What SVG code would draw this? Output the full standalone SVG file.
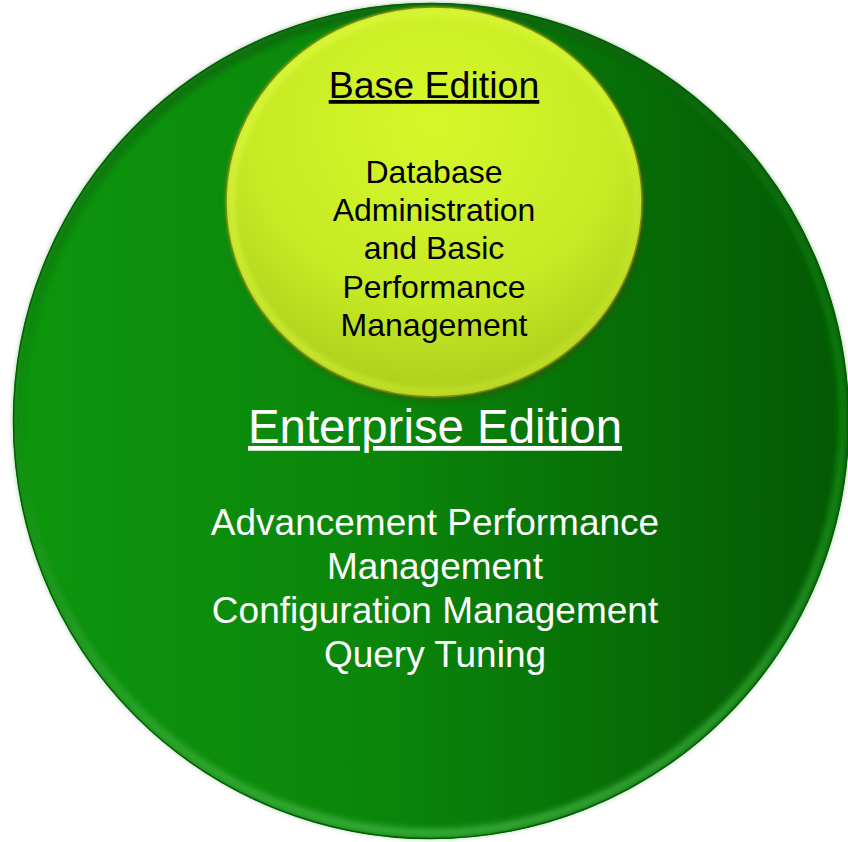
<svg xmlns="http://www.w3.org/2000/svg" width="848" height="842" viewBox="0 0 848 842">
  <defs>
    <linearGradient id="gBig" x1="0" y1="0" x2="1" y2="0">
      <stop offset="0" stop-color="#0e960e"/>
      <stop offset="0.45" stop-color="#0a850a"/>
      <stop offset="1" stop-color="#045804"/>
    </linearGradient>
    <linearGradient id="gBigRim" x1="0" y1="0" x2="0" y2="1">
      <stop offset="0" stop-color="#0b5e0b"/>
      <stop offset="0.5" stop-color="#0f8a0f"/>
      <stop offset="1" stop-color="#45b545"/>
    </linearGradient>
    <radialGradient id="gSmall" cx="0.5" cy="0.3" r="0.75">
      <stop offset="0" stop-color="#d6f82a"/>
      <stop offset="0.6" stop-color="#c6ea24"/>
      <stop offset="1" stop-color="#a7c81a"/>
    </radialGradient>
    <linearGradient id="gSmallRim" x1="0" y1="0" x2="1" y2="1">
      <stop offset="0" stop-color="#eaff50"/>
      <stop offset="0.6" stop-color="#d8f438"/>
      <stop offset="1" stop-color="#c2dc30"/>
    </linearGradient>
    <filter id="blur" x="-10%" y="-10%" width="120%" height="120%">
      <feGaussianBlur stdDeviation="3"/>
    </filter>
  </defs>
  <style>
    .title { font-family: "Liberation Sans", Arial, sans-serif; text-anchor: middle; text-decoration: underline; }
    .body { font-family: "Liberation Sans", Arial, sans-serif; text-anchor: middle; }
  </style>

  <g id="enterprise">
    <circle cx="431" cy="421" r="418" fill="url(#gBig)"/>
    <circle cx="431" cy="421" r="412" fill="none" stroke="url(#gBigRim)" stroke-width="8" opacity="0.85" filter="url(#blur)"/>
    <circle cx="431" cy="421" r="417.5" fill="none" stroke="#0a5a0a" stroke-width="1.5"/>
    <text class="title" x="435" y="443" font-size="47.4" fill="#ffffff">Enterprise Edition</text>
    <text class="body" x="435" y="535" font-size="37" fill="#ffffff">Advancement Performance</text>
    <text class="body" x="435" y="579" font-size="37" fill="#ffffff">Management</text>
    <text class="body" x="435" y="623" font-size="37" fill="#ffffff">Configuration Management</text>
    <text class="body" x="435" y="667" font-size="37" fill="#ffffff">Query Tuning</text>
  </g>

  <g id="base">
    <ellipse cx="436" cy="205" rx="208" ry="195" fill="#3a3a00" opacity="0.6" filter="url(#blur)"/>
    <ellipse cx="434" cy="202" rx="208" ry="195" fill="url(#gSmall)"/>
    <ellipse cx="434" cy="202" rx="203" ry="190" fill="none" stroke="url(#gSmallRim)" stroke-width="5" opacity="0.8" filter="url(#blur)"/>
    <ellipse cx="434" cy="202" rx="208" ry="195" fill="none" stroke="#7a8a10" stroke-width="1.5"/>
    <text class="title" x="434" y="98" font-size="37.5" fill="#000000">Base Edition</text>
    <text class="body" x="434" y="183" font-size="32" fill="#000000">Database</text>
    <text class="body" x="434" y="221" font-size="32" fill="#000000">Administration</text>
    <text class="body" x="434" y="259" font-size="32" fill="#000000">and Basic</text>
    <text class="body" x="434" y="298" font-size="32" fill="#000000">Performance</text>
    <text class="body" x="434" y="336" font-size="32" fill="#000000">Management</text>
  </g>

  <g id="connectors"/>
</svg>
